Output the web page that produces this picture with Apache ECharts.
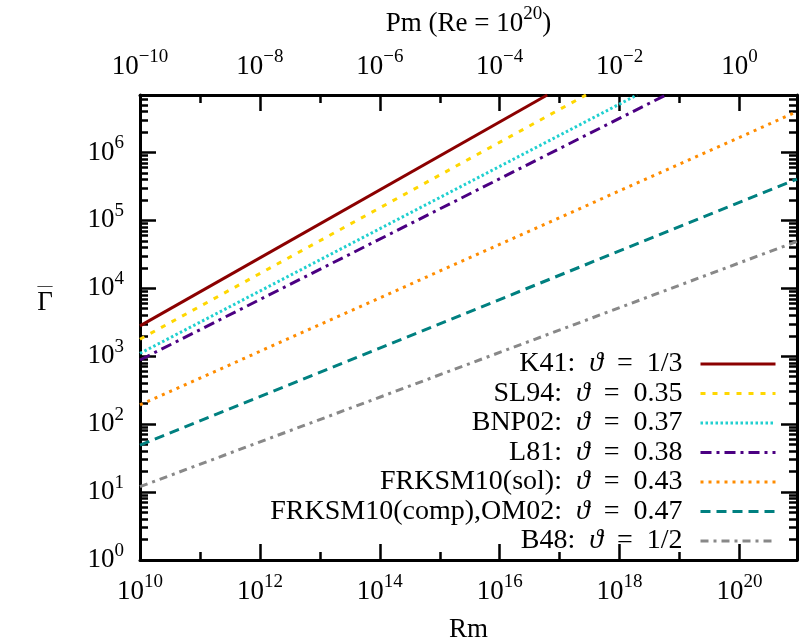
<html>
<head>
    <meta charset="UTF-8">
    <title>Gamma vs Rm</title>
    <script src="https://cdn.jsdelivr.net/npm/echarts@6/dist/echarts.min.js"></script>
</head>
<body style="margin:0;background:#fff">
    <div id="container" style="width: 806px;height:643px;"></div>
</body>
<script>
    // axis ranges (real values)
    var rmMin = 1e10, rmMax = 9.1e20;
    var gammaMin = 1, gammaMax = 7.0e6;
    var reValue = 20; // Re = 10^20, Pm = Rm / Re

    // series: names, legend text, and the two ends of each line
    var names = ['K41', 'SL94', 'BNP02', 'L81', 'FRKSM10(sol)', 'FRKSM10(comp),OM02', 'B48'];
    var thetas = ['1/3', '0.35', '0.37', '0.38', '0.43', '0.47', '1/2'];
    var rmStart = [1e10, 1e10, 1e10, 1e10, 1e10, 1e10, 1e10];
    var gammaStart = [2.8e3, 1.78e3, 1.1e3, 8.8e2, 1.92e2, 49, 12];
    var rmEnd = [6.2e16, 2.75e17, 1.95e18, 5.9e18, 9.1e20, 9.1e20, 9.1e20];
    var gammaEnd = [7.0e6, 7.0e6, 7.0e6, 7.0e6, 3.98e6, 4.05e5, 4.9e4];

    // tick exponents
    var xMajor = [10, 12, 14, 16, 18, 20];
    var xMinor = [11, 13, 15, 17, 19];
    var yMajor = [0, 1, 2, 3, 4, 5, 6];

    var colors = ['#8b0000', '#ffd700', '#20d0d0', '#4b0082', '#ff8c00', '#008080', '#888888'];
    var dashes = ['solid', [5, 7], [2.5, 2.5], [11, 5, 3, 5], [3, 5], [10, 6], [8, 5, 3, 5]];

    var FONT = 'Liberation Serif';
    var L = Math.log10;

    var yMinor = [];
    for (var n = 0; n < 7; n++) {
        for (var k = 2; k <= 9; k++) {
            var v = n + L(k);
            if (v <= L(gammaMax)) yMinor.push(v);
        }
    }

    var rich = {
        b: { fontFamily: FONT, fontSize: 27, color: '#000' },
        s: { fontFamily: FONT, fontSize: 19, color: '#000', padding: [0, 0, 18, 0] }
    };
    function pow10(e) {
        return '{b|10}{s|' + String(e).replace('-', '\u2212') + '}';
    }

    function xAxisDef(pos, ticks, len, labels, extra) {
        var a = {
            type: 'value', position: pos, min: L(rmMin), max: L(rmMax),
            splitLine: { show: false },
            axisLine: { show: !!labels, onZero: false, lineStyle: { color: '#000', width: 3 } },
            axisTick: { show: true, inside: true, length: len, customValues: ticks,
                        lineStyle: { color: '#000', width: 2.5 } },
            axisLabel: labels ? labels : { show: false }
        };
        for (var key in extra) a[key] = extra[key];
        return a;
    }
    function yAxisDef(pos, ticks, len, labels, extra) {
        var a = {
            type: 'value', position: pos, min: L(gammaMin), max: L(gammaMax),
            splitLine: { show: false },
            axisLine: { show: len > 10, onZero: false, lineStyle: { color: '#000', width: 3 } },
            axisTick: { show: true, inside: true, length: len, customValues: ticks,
                        lineStyle: { color: '#000', width: 2.5 } },
            axisLabel: labels ? labels : { show: false }
        };
        for (var key in extra) a[key] = extra[key];
        return a;
    }

    var series = [];
    var legends = [];
    for (var i = 0; i < names.length; i++) {
        series.push({
            name: names[i],
            type: 'line',
            xAxisIndex: 0,
            yAxisIndex: 0,
            symbol: 'none',
            data: [[L(rmStart[i]), L(gammaStart[i])], [L(rmEnd[i]), L(gammaEnd[i])]],
            lineStyle: { color: colors[i], width: 3, type: dashes[i] },
            itemStyle: { color: colors[i] }
        });
        legends.push({
            data: [names[i]],
            right: 29,
            top: 350 + i * 29.5,
            padding: 0,
            itemWidth: 75,
            itemHeight: 22,
            align: 'right',
            selectedMode: false,
            itemStyle: { opacity: 0 },
            lineStyle: { width: 3 },
            formatter: (function (idx) {
                return function () {
                    return '{t|' + names[idx] + ':\u2002}{i|\u03d1}{t|\u2002=\u2002' + thetas[idx] + '}{g|}';
                };
            })(i),
            textStyle: {
                rich: {
                    t: { fontFamily: FONT, fontSize: 28, color: '#000' },
                    i: { fontFamily: FONT, fontSize: 28, fontStyle: 'italic', color: '#000' },
                    g: { width: 13 }
                }
            }
        });
    }

    var mycharts = echarts.init(document.getElementById('container'));
    var option = {
        animation: false,
        backgroundColor: '#fff',
        grid: { left: 140, right: 9, top: 95, bottom: 83, outerBoundsMode: 'none', containLabel: false },
        legend: legends,
        xAxis: [
            xAxisDef('bottom', xMajor, 16, {
                show: true, customValues: xMajor, margin: 13,
                formatter: function (v) { return pow10(v); }, rich: rich
            }, {
                name: 'Rm', nameLocation: 'middle', nameGap: 56,
                nameTextStyle: { fontFamily: FONT, fontSize: 27, color: '#000' }
            }),
            xAxisDef('bottom', xMinor, 8, null, {}),
            xAxisDef('top', xMajor, 16, {
                show: true, customValues: xMajor, margin: 10,
                formatter: function (v) { return pow10(v - reValue); }, rich: rich
            }, {
                name: '{b|Pm (Re = 10}{s|20}{b|)}', nameLocation: 'middle', nameGap: 53,
                nameTextStyle: { rich: rich }
            }),
            xAxisDef('top', xMinor, 8, null, {})
        ],
        yAxis: [
            yAxisDef('left', yMajor, 16, {
                show: true, customValues: yMajor, margin: 16,
                formatter: function (v) { return pow10(v); }, rich: rich
            }, {
                name: '{o|\u2014}\n{g|\u0393}', nameLocation: 'middle', nameRotate: 0, nameGap: 95,
                nameTextStyle: {
                    padding: [0, 0, 55, 0],
                    align: 'center',
                    rich: {
                        o: { fontFamily: FONT, fontSize: 15, color: '#000', lineHeight: 6, align: 'center' },
                        g: { fontFamily: FONT, fontSize: 27, color: '#000', lineHeight: 28, align: 'center' }
                    }
                }
            }),
            yAxisDef('left', yMinor, 8, null, {}),
            yAxisDef('right', yMajor, 16, null, {}),
            yAxisDef('right', yMinor, 8, null, {})
        ],
        series: series
    };
    mycharts.setOption(option);
</script>
</html>
